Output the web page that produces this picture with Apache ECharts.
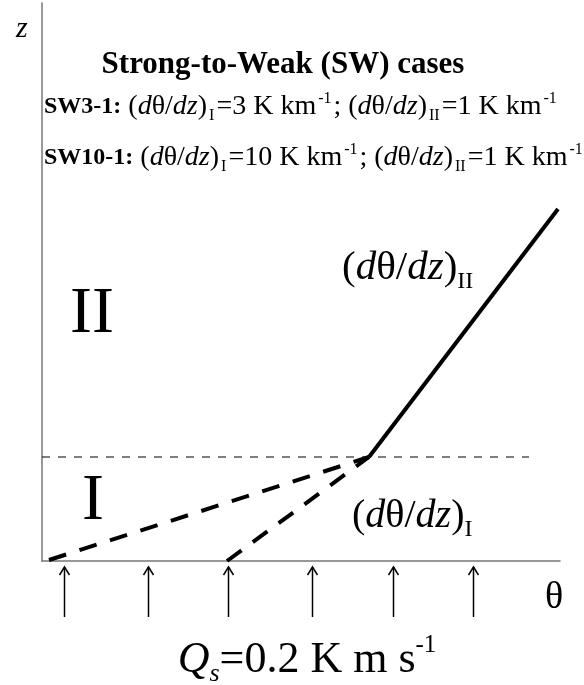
<!DOCTYPE html>
<html>
<head>
<meta charset="utf-8">
<script src="https://cdn.jsdelivr.net/npm/echarts@6/dist/echarts.min.js"></script>
<style>
  html, body { margin: 0; padding: 0; background: #fff; }
  #chart { width: 584px; height: 685px; }
</style>
</head>
<body>
<div id="chart"></div>
<script>
// Schematic theta-z profile, in arbitrary schematic units (theta along x, z along y)
var thetaRange = [0, 518];
var zRange = [0, 558];

// Layer interface height (boundary between layer I and layer II)
var interfaceLine = [[0, 104], [487, 104]];

// Lower-layer profiles (dashed): weak-slope SW10-1 and steeper SW3-1
var profileSW10 = [[7, 1], [327, 104]];
var profileSW3 = [[185, 0], [327, 104]];

// Upper-layer profile (solid), shared by both cases
var profileUpper = [[327, 104], [516, 352]];

// Surface heat flux arrows along the theta axis
var fluxArrowTheta = [22, 106, 186, 270, 351, 431];

var SERIF = '"Liberation Serif", "Times New Roman", serif';

var chart = echarts.init(document.getElementById('chart'), null, { renderer: 'canvas' });

function sub(size, pad, side) {
  return { fontSize: size, fontFamily: SERIF, padding: [pad, side || 0, 0, side || 0] };
}
function sup(size, pad, side) {
  return { fontSize: size, fontFamily: SERIF, padding: [0, side || 0, pad, side || 0] };
}
function caseRich(fb, fs) {
  return {
    b: { fontSize: fb, fontFamily: SERIF, fontWeight: 'bold' },
    i: { fontSize: fs, fontFamily: SERIF, fontStyle: 'italic' },
    s: sub(16, 18, 2),
    p: sup(16, 16, 2)
  };
}

var option = {
  animation: false,
  backgroundColor: '#fff',
  grid: { left: 42, top: 3, width: 518, height: 558, containLabel: false },
  xAxis: {
    type: 'value', min: thetaRange[0], max: thetaRange[1],
    axisLine: { show: true, lineStyle: { color: '#777', width: 1.5 } },
    axisTick: { show: false }, axisLabel: { show: false }, splitLine: { show: false }
  },
  yAxis: {
    type: 'value', min: zRange[0], max: zRange[1],
    axisLine: { show: true, lineStyle: { color: '#777', width: 1.5 } },
    axisTick: { show: false }, axisLabel: { show: false }, splitLine: { show: false }
  },
  series: [
    {
      name: 'interface', type: 'line', data: interfaceLine, symbol: 'none', silent: true,
      lineStyle: { color: '#000', width: 1, type: [8, 8] }
    },
    {
      name: 'SW10-1', type: 'line', data: profileSW10, symbol: 'none', silent: true,
      lineStyle: { color: '#000', width: 4, type: [18, 14] }
    },
    {
      name: 'SW3-1', type: 'line', data: profileSW3, symbol: 'none', silent: true,
      lineStyle: { color: '#000', width: 4, type: [18, 14] }
    },
    {
      name: 'upper', type: 'line', data: profileUpper, symbol: 'none', silent: true,
      lineStyle: { color: '#000', width: 4 }
    },
    {
      name: 'flux', type: 'custom', clip: false, silent: true,
      data: fluxArrowTheta.map(function (t) { return [t, 0]; }),
      renderItem: function (params, api) {
        var p = api.coord([api.value(0), 0]);
        var x = Math.round(p[0]) + 0.5;
        var y = p[1];
        var st = { stroke: '#000', lineWidth: 1.5, fill: null };
        return {
          type: 'group',
          children: [
            { type: 'line', shape: { x1: x, y1: y + 6, x2: x, y2: y + 56 }, style: st },
            { type: 'polyline', shape: { points: [[x - 5, y + 14], [x, y + 6], [x + 5, y + 14]] }, style: st }
          ]
        };
      }
    }
  ],
  graphic: [
    { type: 'text', left: 16, top: 14, style: { text: 'z', fontSize: 30, fontStyle: 'italic', fontFamily: SERIF, fill: '#000' } },
    { type: 'text', x: 283, y: 80, style: {
        text: 'Strong-to-Weak (SW) cases', fontSize: 31, fontWeight: 'bold', fontFamily: SERIF,
        fill: '#000', align: 'center', verticalAlign: 'bottom' } },
    { type: 'text', x: 44, y: 107, style: {
        text: '{b|SW3-1:} ({i|d}θ/{i|dz}){s|I}=3 K km{p|-1}; ({i|d}θ/{i|dz}){s|II}=1 K km{p|-1}',
        fontSize: 28, fontFamily: SERIF, fill: '#000', verticalAlign: 'middle',
        rich: caseRich(24, 28) } },
    { type: 'text', x: 44, y: 158, style: {
        text: '{b|SW10-1:} ({i|d}θ/{i|dz}){s|I}=10 K km{p|-1}; ({i|d}θ/{i|dz}){s|II}=1 K km{p|-1}',
        fontSize: 28, fontFamily: SERIF, fill: '#000', verticalAlign: 'middle',
        rich: caseRich(24, 28) } },
    { type: 'text', x: 70, y: 348, style: { text: 'II', fontSize: 66, fontFamily: SERIF, fill: '#000', verticalAlign: 'bottom' } },
    { type: 'text', x: 82, y: 535, style: { text: 'I', fontSize: 66, fontFamily: SERIF, fill: '#000', verticalAlign: 'bottom' } },
    { type: 'text', x: 342, y: 268, style: {
        text: '({i|d}θ/{i|dz}){s|II}', fontSize: 41, fontFamily: SERIF, fill: '#000', verticalAlign: 'middle',
        rich: { i: { fontSize: 41, fontFamily: SERIF, fontStyle: 'italic' }, s: sub(24, 28) } } },
    { type: 'text', x: 352, y: 516, style: {
        text: '({i|d}θ/{i|dz}){s|I}', fontSize: 40, fontFamily: SERIF, fill: '#000', verticalAlign: 'middle',
        rich: { i: { fontSize: 40, fontFamily: SERIF, fontStyle: 'italic' }, s: sub(24, 28) } } },
    { type: 'text', x: 545, y: 617, style: { text: 'θ', fontSize: 38, fontFamily: SERIF, fill: '#000', verticalAlign: 'bottom' } },
    { type: 'text', x: 307, y: 660, style: {
        text: '{q|Q}{s|s}=0.2 K m s{p|-1}', fontSize: 44, fontFamily: SERIF, fill: '#000',
        align: 'center', verticalAlign: 'middle',
        rich: { q: { fontSize: 44, fontFamily: SERIF, fontStyle: 'italic' },
                s: { fontSize: 26, fontFamily: SERIF, fontStyle: 'italic', padding: [29, 0, 0, 0] },
                p: sup(25, 29) } } }
  ]
};
chart.setOption(option);
</script>
</body>
</html>
